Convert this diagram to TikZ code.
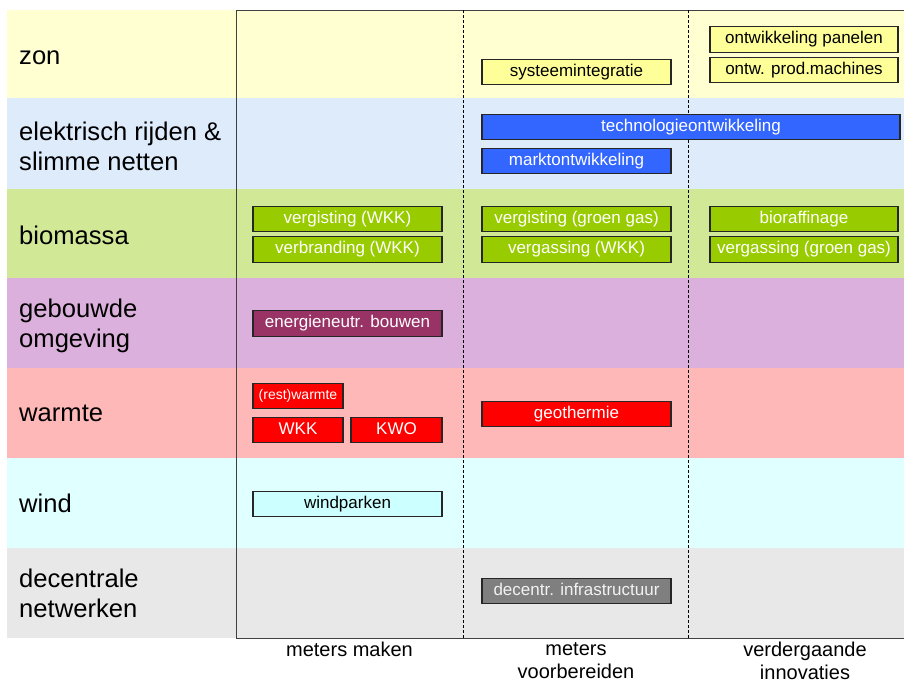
\documentclass[tikz,border=0pt]{standalone}
\usepackage{fontspec}
\setmainfont{Liberation Sans}
\definecolor{bZon}{HTML}{FFFFD2}
\definecolor{bEl}{HTML}{DDEBFB}
\definecolor{bBio}{HTML}{D1E996}
\definecolor{bGeb}{HTML}{DCB0DC}
\definecolor{bWarm}{HTML}{FFB8B8}
\definecolor{bWind}{HTML}{E0FFFF}
\definecolor{bDec}{HTML}{E8E8E8}
\definecolor{cYel}{HTML}{FFFF99}
\definecolor{cBlue}{HTML}{3366FF}
\definecolor{cGreen}{HTML}{99CC00}
\definecolor{cPlum}{HTML}{993366}
\definecolor{cRed}{HTML}{FF0000}
\definecolor{cCyan}{HTML}{CCFFFF}
\definecolor{cGray}{HTML}{7F7F7F}
\begin{document}
\begin{tikzpicture}[x=1pt,y=-1pt,
  rowlabel/.style={anchor=west, align=left, font=\fontsize{25.6}{30}\selectfont, inner sep=0pt},
  collabel/.style={align=center, font=\fontsize{20}{23}\selectfont, inner sep=0pt},
  box/.style={draw=black!85, line width=1.1pt, minimum height=25.5pt, inner sep=0pt,
              text height=12.2pt, text depth=3.6pt,
              font=\fontsize{17}{20}\selectfont},
  ybox/.style={box, fill=cYel, text=black},
  bbox/.style={box, fill=cBlue, text=white},
  gbox/.style={box, fill=cGreen, text=white},
  pbox/.style={box, fill=cPlum, text=white},
  rbox/.style={box, fill=cRed, text=white},
  cbox/.style={box, fill=cCyan, text=black},
  dbox/.style={box, fill=cGray, text=black!5},
  frame/.style={draw=black!75, line width=0.9pt},
  sep/.style={draw=black, line width=0.8pt, dash pattern=on 3pt off 2pt}
]
\useasboundingbox (0,0) rectangle (904,684);
\fill[white] (0,0) rectangle (904,684);
% bands
\fill[bZon]  (7,10)  rectangle (904,98);
\fill[bEl]   (7,98)  rectangle (904,189);
\fill[bBio]  (7,189) rectangle (904,278);
\fill[bGeb]  (7,278) rectangle (904,368);
\fill[bWarm] (7,368) rectangle (904,458);
\fill[bWind] (7,458) rectangle (904,548);
\fill[bDec]  (7,548) rectangle (904,638);
% frame
\draw[frame] (904,10) -- (236,10) -- (236,638) -- (904,638);
\draw[sep] (463,10) -- (463,638);
\draw[sep] (688,10) -- (688,638);
% row labels
\node[rowlabel] (lzon) at (19,58) {zon};
\node[rowlabel] (lel) at (19,146) {elektrisch rijden \&\\slimme netten};
\node[rowlabel] (lbio) at (19,235) {biomassa};
\node[rowlabel] (lgeb) at (19,326) {gebouwde\\omgeving};
\node[rowlabel] (lwarm) at (19,413) {warmte};
\node[rowlabel] (lwind) at (19,503) {wind};
\node[rowlabel] (ldec) at (19,593) {decentrale\\netwerken};
% column labels
\node[collabel, anchor=north] (c1) at (349.5,642) {meters maken};
\node[collabel, anchor=north] (c2) at (576,642) {meters\\voorbereiden};
\node[collabel, anchor=north] (c3) at (805,642) {verdergaande\\innovaties};
% zon
\node[ybox, minimum width=189pt] (sys) at (576.5,72) {systeemintegratie};
\node[ybox, minimum width=188pt] (pan) at (804,39.5) {ontwikkeling panelen};
\node[ybox, minimum width=188pt] (prod) at (804,70) {ontw. prod.machines};
% elektrisch
\node[bbox, minimum width=418pt] (tech) at (691,127) {technologieontwikkeling};
\node[bbox, minimum width=189pt] (markt) at (576.5,161) {marktontwikkeling};
% biomassa
\node[gbox, minimum width=189pt] (vw) at (347.5,219) {vergisting (WKK)};
\node[gbox, minimum width=189pt] (bw) at (347.5,249.5) {verbranding (WKK)};
\node[gbox, minimum width=189pt] (vg) at (576.5,219) {vergisting (groen gas)};
\node[gbox, minimum width=189pt] (gw) at (576.5,249.5) {vergassing (WKK)};
\node[gbox, minimum width=188pt] (bio) at (804,219) {bioraffinage};
\node[gbox, minimum width=188pt] (gg) at (804,249.5) {vergassing (groen gas)};
% gebouwde omgeving
\node[pbox, minimum width=189pt] (enb) at (347.5,323.5) {energieneutr. bouwen};
% warmte
\node[rbox, minimum width=90pt, font=\fontsize{14}{16}\selectfont, text height=10pt, text depth=3pt] (rw) at (298,396) {(rest)warmte};
\node[rbox, minimum width=90pt] (wkk) at (298,430) {WKK};
\node[rbox, minimum width=91pt] (kwo) at (396.5,430) {KWO};
\node[rbox, minimum width=189pt] (geo) at (576.5,414) {geothermie};
% wind
\node[cbox, minimum width=189pt] (wp) at (347.5,504) {windparken};
% decentrale netwerken
\node[dbox, minimum width=189pt] (dec) at (576.5,591) {decentr. infrastructuur};
\end{tikzpicture}
\end{document}
